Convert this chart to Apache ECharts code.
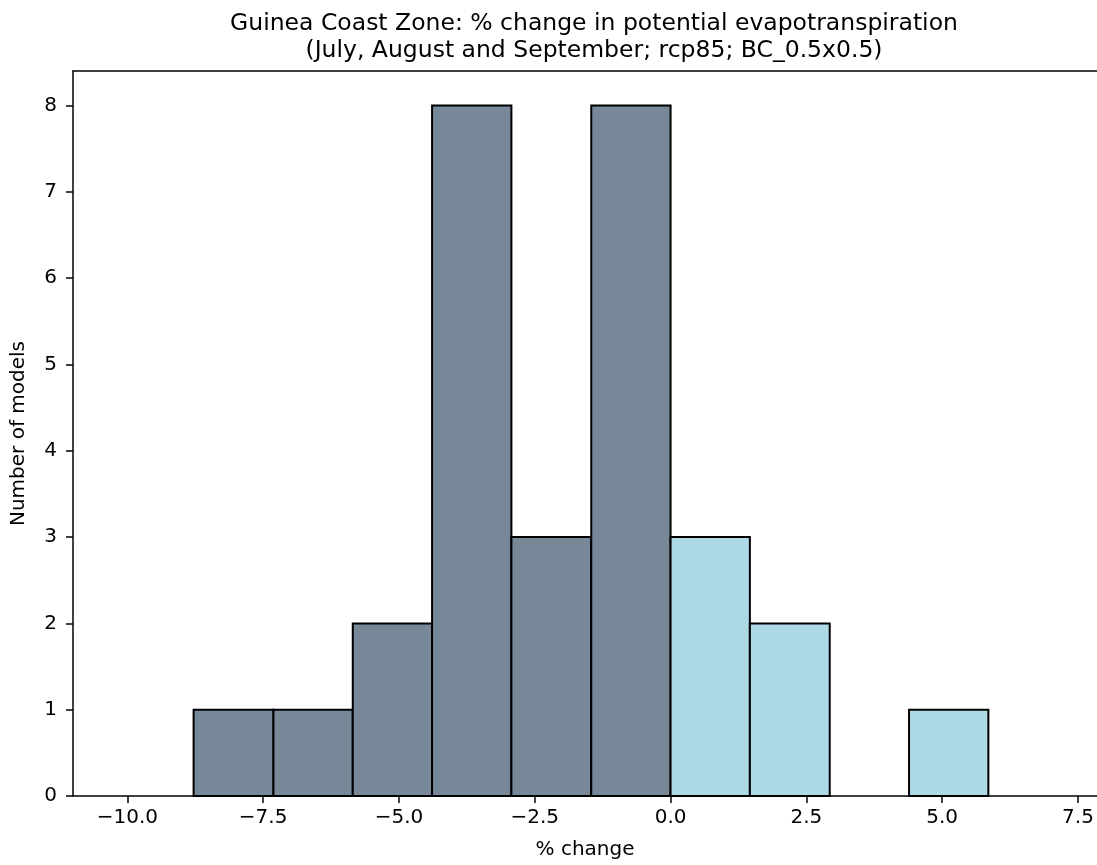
<!DOCTYPE html>
<html>
<head>
<meta charset="utf-8">
<script src="https://cdn.jsdelivr.net/npm/echarts@6/dist/echarts.min.js"></script>
<style>
html,body{margin:0;padding:0;background:#fff;}
#chart{width:1097px;height:865px;}
</style>
</head>
<body>
<div id="chart"></div>
<script>
// Histogram bin edges (% change) and counts (number of models)
const binEdges = [-8.78, -7.31, -5.85, -4.39, -2.93, -1.46, 0.0, 1.46, 2.93, 4.39, 5.85];
const counts   = [1, 1, 2, 8, 3, 8, 3, 2, 0, 1];
const xTicks = [-10.0, -7.5, -5.0, -2.5, 0.0, 2.5, 5.0, 7.5];
const yTicks = [0, 1, 2, 3, 4, 5, 6, 7, 8];
const titleLines = [
  'Guinea Coast Zone: % change in potential evapotranspiration',
  '(July, August and September; rcp85; BC_0.5x0.5)'
];

const FONT = 'DejaVu Sans';
const XMIN = -11, XMAX = 7.85;
const data = counts.map((c, i) => [binEdges[i], binEdges[i + 1], c]);

const chart = echarts.init(document.getElementById('chart'), null, {renderer: 'canvas'});
chart.setOption({
  animation: false,
  backgroundColor: '#fff',
  title: {
    text: titleLines.join('\n'),
    left: 589,
    top: 5,
    textAlign: 'center',
    textStyle: {fontFamily: FONT, fontSize: 23.5, fontWeight: 'normal', color: '#000', lineHeight: 27}
  },
  grid: {left: 73, right: 0, top: 71, bottom: 69},
  xAxis: [{
    type: 'value', min: XMIN, max: XMAX,
    name: '% change', nameLocation: 'middle', nameGap: 44,
    nameTextStyle: {fontFamily: FONT, fontSize: 20, color: '#000'},
    axisLine: {show: true, onZero: false, lineStyle: {color: '#000', width: 1.5}},
    axisTick: {show: true, length: 7, inside: false, customValues: xTicks, lineStyle: {color: '#000', width: 1.5}},
    axisLabel: {customValues: xTicks, margin: 12, fontFamily: FONT, fontSize: 20, color: '#000',
      formatter: v => (v < 0 ? '\u2212' : '') + Math.abs(v).toFixed(1)},
    splitLine: {show: false}
  }, {
    type: 'value', position: 'top', min: XMIN, max: XMAX,
    axisLine: {show: true, onZero: false, lineStyle: {color: '#000', width: 1.5}},
    axisTick: {show: false}, axisLabel: {show: false}, splitLine: {show: false}
  }],
  yAxis: {
    type: 'value', min: 0, max: 8.4,
    name: 'Number of models', nameLocation: 'middle', nameGap: 44,
    nameTextStyle: {fontFamily: FONT, fontSize: 20, color: '#000'},
    axisLine: {show: true, onZero: false, lineStyle: {color: '#000', width: 1.5}},
    axisTick: {show: true, length: 7, customValues: yTicks, lineStyle: {color: '#000', width: 1.5}},
    axisLabel: {customValues: yTicks, margin: 16, fontFamily: FONT, fontSize: 20, color: '#000'},
    splitLine: {show: false}
  },
  series: [{
    type: 'custom',
    xAxisIndex: 0,
    data: data,
    encode: {x: [0, 1], y: 2},
    renderItem: function (params, api) {
      const x0 = api.value(0), x1 = api.value(1), c = api.value(2);
      if (c <= 0) return null;
      const p0 = api.coord([x0, c]);
      const p1 = api.coord([x1, 0]);
      return {
        type: 'rect',
        shape: {x: p0[0], y: p0[1], width: p1[0] - p0[0], height: p1[1] - p0[1]},
        style: {fill: x0 >= 0 ? '#ADD8E6' : '#778899', stroke: '#000', lineWidth: 2}
      };
    }
  }]
});
</script>
</body>
</html>
